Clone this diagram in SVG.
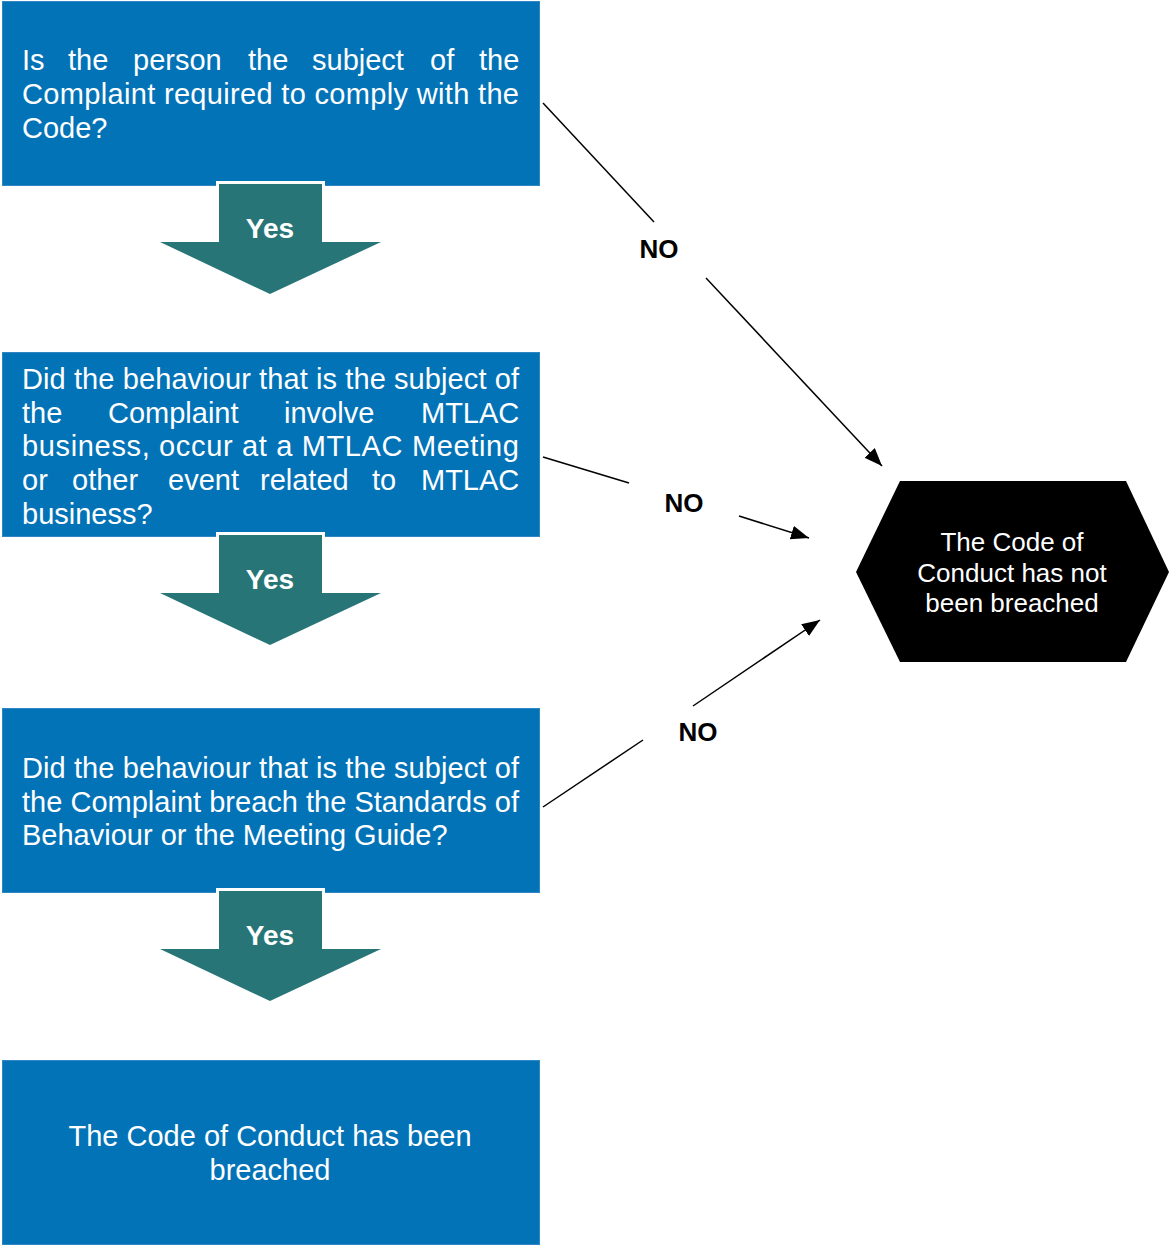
<svg xmlns="http://www.w3.org/2000/svg" width="1169" height="1245" viewBox="0 0 1169 1245">
<style>
.box{fill:#0373B7;stroke:#2F86C2;stroke-width:1}
.yes{fill:#287577}
.yb{fill:#ffffff}
.t{font-family:"Liberation Sans",Arial,sans-serif;font-size:29px;fill:#ffffff}
.yt{font-family:"Liberation Sans",Arial,sans-serif;font-size:28px;font-weight:bold;fill:#ffffff;text-anchor:middle}
.no{font-family:"Liberation Sans",Arial,sans-serif;font-size:26px;font-weight:bold;fill:#000000;text-anchor:middle}
.ht{font-family:"Liberation Sans",Arial,sans-serif;font-size:26px;fill:#ffffff;text-anchor:middle}
.c{stroke:#000000;stroke-width:1.5;fill:none}
</style>
<defs>
<marker id="ah" markerUnits="userSpaceOnUse" markerWidth="20" markerHeight="16" refX="18" refY="7" orient="auto">
<path d="M0,0 L18,7 L0,14 z" fill="#000000"/>
</marker>
</defs>
<rect width="1169" height="1245" fill="#ffffff"/>

<g id="q1">
<rect class="box" x="2.5" y="1.5" width="537" height="184"/>
<text class="t"><tspan x="22" y="70">Is</tspan><tspan x="68" y="70">the</tspan><tspan x="133" y="70">person</tspan><tspan x="248" y="70">the</tspan><tspan x="312" y="70">subject</tspan><tspan x="430" y="70">of</tspan><tspan x="479" y="70">the</tspan></text>
<text class="t" x="22" y="104" textLength="497" lengthAdjust="spacing">Complaint required to comply with the</text>
<text class="t" x="22" y="138">Code?</text>
</g>

<g id="yes1">
<rect class="yb" x="216" y="181" width="109" height="8"/>
<polygon class="yes" points="219,184 322,184 322,242 381,242 270,294 160,242 219,242"/>
<text class="yt" x="270" y="238">Yes</text>
</g>

<g id="q2">
<rect class="box" x="2.5" y="352.5" width="537" height="184"/>
<text class="t" x="22" y="389" textLength="497" lengthAdjust="spacing">Did the behaviour that is the subject of</text>
<text class="t"><tspan x="22" y="423">the</tspan><tspan x="108" y="423">Complaint</tspan><tspan x="284" y="423">involve</tspan><tspan x="421" y="423">MTLAC</tspan></text>
<text class="t" x="22" y="456" textLength="497" lengthAdjust="spacing">business, occur at a MTLAC Meeting</text>
<text class="t"><tspan x="22" y="490">or</tspan><tspan x="72" y="490">other</tspan><tspan x="168" y="490">event</tspan><tspan x="260" y="490">related</tspan><tspan x="372" y="490">to</tspan><tspan x="421" y="490">MTLAC</tspan></text>
<text class="t" x="22" y="524">business?</text>
</g>

<g id="yes2">
<rect class="yb" x="216" y="532" width="109" height="8"/>
<polygon class="yes" points="219,535 322,535 322,593 381,593 270,645 160,593 219,593"/>
<text class="yt" x="270" y="589">Yes</text>
</g>

<g id="q3">
<rect class="box" x="2.5" y="708.5" width="537" height="184"/>
<text class="t" x="22" y="778" textLength="497" lengthAdjust="spacing">Did the behaviour that is the subject of</text>
<text class="t" x="22" y="812" textLength="497" lengthAdjust="spacing">the Complaint breach the Standards of</text>
<text class="t" x="22" y="845">Behaviour or the Meeting Guide?</text>
</g>

<g id="yes3">
<rect class="yb" x="216" y="888" width="109" height="8"/>
<polygon class="yes" points="219,891 322,891 322,949 381,949 270,1001 160,949 219,949"/>
<text class="yt" x="270" y="945">Yes</text>
</g>

<g id="breached">
<rect class="box" x="2.5" y="1060.5" width="537" height="184"/>
<text class="t" x="270" y="1146" text-anchor="middle">The Code of Conduct has been</text>
<text class="t" x="270" y="1180" text-anchor="middle">breached</text>
</g>

<g id="notbreached">
<polygon points="900,481 1126,481 1169,572 1126,662 900,662 856,572" fill="#000000"/>
<text class="ht" x="1012" y="551">The Code of</text>
<text class="ht" x="1012" y="582">Conduct has not</text>
<text class="ht" x="1012" y="612">been breached</text>
</g>

<g id="connectors">
<line class="c" x1="543" y1="103" x2="654" y2="222"/>
<line class="c" x1="706" y1="278" x2="882" y2="466" marker-end="url(#ah)"/>
<text class="no" x="659" y="258">NO</text>
<line class="c" x1="543" y1="457" x2="629" y2="483"/>
<line class="c" x1="739" y1="516" x2="809" y2="538" marker-end="url(#ah)"/>
<text class="no" x="684" y="512">NO</text>
<line class="c" x1="543" y1="807" x2="643" y2="740"/>
<line class="c" x1="693" y1="706" x2="820" y2="620" marker-end="url(#ah)"/>
<text class="no" x="698" y="741">NO</text>
</g>
</svg>
